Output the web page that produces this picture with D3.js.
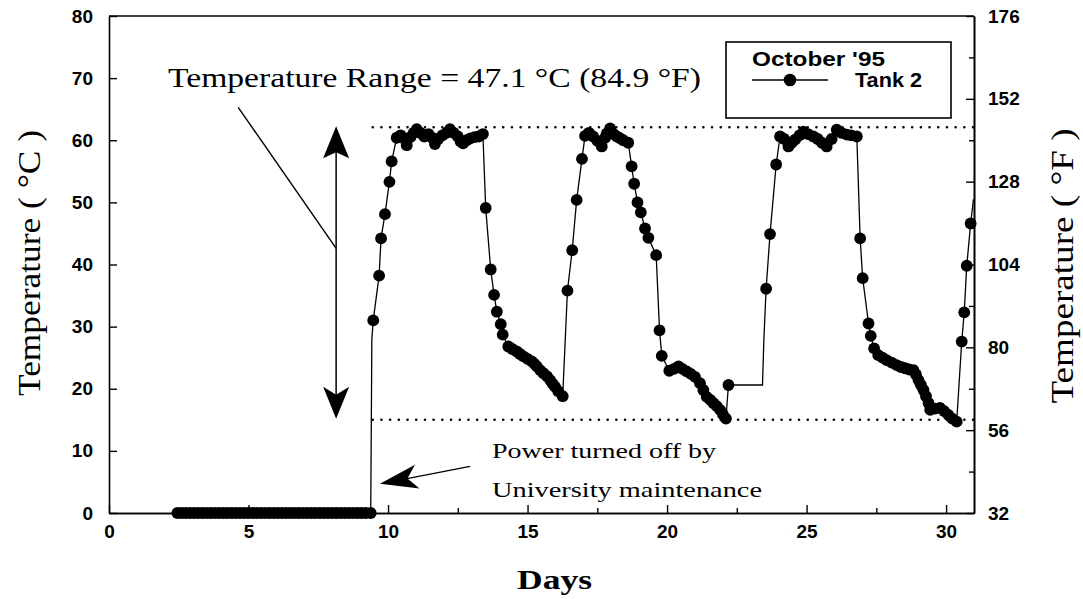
<!DOCTYPE html>
<html>
<head>
<meta charset="utf-8">
<script src="https://cdn.jsdelivr.net/npm/d3@7"></script>
<style>
  body { margin: 0; background: #fff; }
  .tick text { font-family: "Liberation Sans", Arial, sans-serif; font-weight: bold; font-size: 19px; fill: #000; }
  .serif { font-family: "Liberation Serif", "Times New Roman", serif; fill: #000; }
  .sans { font-family: "Liberation Sans", Arial, sans-serif; font-weight: bold; fill: #000; }
</style>
</head>
<body>
<div id="chart"></div>
<script>
// days with the power off (tank reads 0 °C)
let offDays = [2.45, 2.6, 2.75, 2.9, 3.05, 3.2, 3.35, 3.5, 3.65, 3.8, 3.95, 4.1, 4.25, 4.4, 4.55,
	4.7, 4.85, 5.0, 5.15, 5.3, 5.45, 5.6, 5.75, 5.9, 6.05, 6.2, 6.35, 6.5, 6.65, 6.8, 6.95, 7.1,
	7.25, 7.4, 7.55, 7.7, 7.85, 8.0, 8.15, 8.3, 8.45, 8.6, 8.75, 8.9, 9.05, 9.2, 9.38];

// Tank 2 readings [day, °C]
let tank2 = [
	[9.47, 31.0], [9.68, 38.2], [9.75, 44.2], [9.89, 48.1], [10.05, 53.3], [10.13, 56.6], [10.31, 60.4],
	[10.45, 60.8], [10.6, 60.2], [10.67, 59.2], [10.8, 60.5], [10.92, 61.2], [11.03, 61.8], [11.15, 61.2],
	[11.3, 60.6], [11.45, 61.0], [11.58, 60.4], [11.68, 59.4], [11.8, 60.2], [11.95, 60.8], [12.1, 61.2],
	[12.22, 61.8], [12.35, 61.2], [12.5, 60.6], [12.6, 59.8], [12.69, 59.5], [12.82, 60.0], [12.95, 60.3],
	[13.1, 60.5], [13.25, 60.6], [13.4, 61.0],
	[13.5, 49.1], [13.68, 39.2], [13.8, 35.1], [13.9, 32.4], [14.04, 30.4], [14.11, 28.7], [14.31, 26.8],
	[14.45, 26.4], [14.61, 26.0], [14.73, 25.6], [14.85, 25.2], [15.0, 24.8], [15.15, 24.4], [15.25, 24.0],
	[15.33, 23.6], [15.45, 23.0], [15.57, 22.5], [15.7, 22.0], [15.81, 21.4], [15.9, 20.8], [15.99, 20.3],
	[16.1, 19.6], [16.26, 18.8],
	[16.43, 35.8], [16.6, 42.3], [16.76, 50.4], [16.95, 57.0], [17.06, 60.7],
	[17.2, 61.2], [17.35, 60.6], [17.5, 59.9], [17.66, 59.0], [17.78, 60.4], [17.84, 61.1], [17.96, 61.9],
	[18.08, 61.0], [18.2, 60.6], [18.32, 60.3], [18.43, 60.0], [18.61, 59.6],
	[18.73, 55.8], [18.82, 53.0], [18.94, 50.0], [19.06, 48.4], [19.21, 45.8], [19.33, 44.3], [19.61, 41.5],
	[19.73, 29.4], [19.81, 25.3], [20.08, 22.9], [20.25, 23.2], [20.41, 23.6], [20.55, 23.2], [20.7, 22.8],
	[20.85, 22.4], [21.0, 21.9], [21.18, 20.9], [21.3, 19.8], [21.42, 18.7], [21.55, 18.2], [21.66, 17.7],
	[21.78, 17.2], [21.9, 16.6], [22.0, 15.9], [22.11, 15.2], [22.2, 20.6],
	[23.55, 36.1], [23.69, 44.9], [23.91, 56.1], [24.05, 60.6],
	[24.2, 60.2], [24.35, 59.0], [24.47, 59.6], [24.59, 60.1], [24.75, 60.8], [24.89, 61.4], [25.05, 61.0],
	[25.24, 60.6], [25.4, 60.2], [25.55, 59.6], [25.72, 59.0], [25.9, 60.2], [26.08, 61.7], [26.25, 61.2],
	[26.44, 60.9], [26.6, 60.8], [26.8, 60.6],
	[26.92, 44.2], [27.01, 37.8], [27.22, 30.5], [27.3, 28.5], [27.42, 26.5], [27.57, 25.4], [27.72, 25.0],
	[27.87, 24.6], [28.05, 24.2], [28.23, 23.8], [28.38, 23.5], [28.53, 23.3], [28.68, 23.1], [28.83, 23.0],
	[28.92, 22.3], [29.01, 21.4], [29.1, 20.6], [29.19, 19.8], [29.28, 18.8], [29.37, 17.7], [29.43, 16.6],
	[29.6, 16.8], [29.78, 16.9], [29.93, 16.4], [30.08, 15.8], [30.22, 15.2], [30.38, 14.7],
	[30.56, 27.6], [30.65, 32.3], [30.74, 39.8], [30.88, 46.6]
];

// line bends with no marker
let lineBends = [[9.42, 28.0], [23.42, 20.6], [23.47, 28.0], [30.98, 50.5]];

let rangeHigh = 62.1;
let rangeLow = 15.0;

let xTicks = [0, 5, 10, 15, 20, 25, 30];
let xMinorTicks = [2.5, 7.5, 12.5, 17.5, 22.5, 27.5];
let cTicks = [0, 10, 20, 30, 40, 50, 60, 70, 80];
let fTicks = [32, 56, 80, 104, 128, 152, 176];
let fMinorTicks = [44, 68, 92, 116, 140, 164];

let width = 1083;
let height = 599;
let plotLeft = 109, plotRight = 974, plotTop = 16, plotBottom = 513;

let svg = d3.select('#chart')
		.append('svg')
		.attr('width', width)
		.attr('height', height);

let xScale = d3.scaleLinear().domain([0, 31]).range([plotLeft, plotRight]);
let yScale = d3.scaleLinear().domain([0, 80]).range([plotBottom, plotTop]);
let fScale = d3.scaleLinear().domain([32, 176]).range([plotBottom, plotTop]);

svg.append('defs').append('clipPath')
		.attr('id', 'plotClip')
		.append('rect')
		.attr('x', plotLeft).attr('y', plotTop - 10)
		.attr('width', plotRight - plotLeft).attr('height', plotBottom - plotTop + 20);

// ---- axes ----
svg.append('g')
		.attr('transform', `translate(0,${plotBottom})`)
		.call(d3.axisBottom(xScale).tickValues(xTicks).tickSizeInner(-8).tickSizeOuter(0).tickPadding(12));
svg.append('g')
		.attr('transform', `translate(0,${plotBottom})`)
		.call(d3.axisBottom(xScale).tickValues(xMinorTicks).tickSizeInner(-5).tickSizeOuter(0).tickFormat(''));

svg.append('g')
		.attr('transform', `translate(${plotLeft},0)`)
		.call(d3.axisLeft(yScale).tickValues(cTicks).tickSizeInner(-8).tickSizeOuter(0).tickPadding(16));

svg.append('g')
		.attr('transform', `translate(${plotRight},0)`)
		.call(d3.axisRight(fScale).tickValues(fTicks).tickSizeInner(-8).tickSizeOuter(0).tickPadding(14));
svg.append('g')
		.attr('transform', `translate(${plotRight},0)`)
		.call(d3.axisRight(fScale).tickValues(fMinorTicks).tickSizeInner(-5).tickSizeOuter(0).tickFormat(''));

svg.selectAll('.domain').attr('stroke', '#000').attr('stroke-width', 1.6);
svg.selectAll('.tick line').attr('stroke', '#000').attr('stroke-width', 1.4);

// top frame line
svg.append('line')
		.attr('x1', plotLeft).attr('x2', plotRight)
		.attr('y1', plotTop).attr('y2', plotTop)
		.attr('stroke', '#000').attr('stroke-width', 1.6);

// ---- axis titles ----
svg.append('text')
		.attr('class', 'serif')
		.attr('transform', `translate(40,263) rotate(-90)`)
		.attr('text-anchor', 'middle')
		.attr('textLength', 266)
		.attr('lengthAdjust', 'spacingAndGlyphs')
		.style('font-size', '31px')
		.text('Temperature ( °C )');

svg.append('text')
		.attr('class', 'serif')
		.attr('transform', `translate(1073,266) rotate(-90)`)
		.attr('text-anchor', 'middle')
		.attr('textLength', 275)
		.attr('lengthAdjust', 'spacingAndGlyphs')
		.style('font-size', '31px')
		.text('Temperature ( °F )');

svg.append('text')
		.attr('class', 'serif')
		.attr('x', 517)
		.attr('y', 589)
		.attr('textLength', 75)
		.attr('lengthAdjust', 'spacingAndGlyphs')
		.style('font-size', '28px')
		.style('font-weight', 'bold')
		.text('Days');

// ---- range lines ----
[rangeHigh, rangeLow].forEach(v => {
	svg.append('line')
			.attr('x1', xScale(9.45)).attr('x2', plotRight)
			.attr('y1', yScale(v)).attr('y2', yScale(v))
			.attr('stroke', '#000')
			.attr('stroke-width', 2.5)
			.attr('stroke-linecap', 'round')
			.attr('stroke-dasharray', '0.1,8.6');
});

// ---- series ----
let lineGen = d3.line()
		.x(p => xScale(p[0]))
		.y(p => yScale(p[1]));

let offPoints = offDays.map(d => [d, 0]);
let linePoints = offPoints.concat(tank2, lineBends).sort((a, b) => a[0] - b[0]);

svg.append('path')
		.attr('d', lineGen(linePoints))
		.attr('clip-path', 'url(#plotClip)')
		.attr('fill', 'none')
		.attr('stroke', '#000')
		.attr('stroke-width', 1.3);

svg.append('g')
		.selectAll('circle')
		.data(offPoints.concat(tank2))
		.enter()
		.append('circle')
		.attr('cx', p => xScale(p[0]))
		.attr('cy', p => yScale(p[1]))
		.attr('r', 5.9)
		.attr('fill', '#000');

// ---- annotations ----
function arrowHead(tipX, tipY, angle, len, half, notch) {
	// arrow pointing along angle (radians) toward the tip
	let ca = Math.cos(angle), sa = Math.sin(angle);
	let pt = (a, b) => [tipX - a * ca - b * sa, tipY - a * sa + b * ca];
	let pts = [[tipX, tipY], pt(len, half), pt(len - notch, 0), pt(len, -half)];
	return 'M' + pts.map(p => p.join(',')).join('L') + 'Z';
}

let rangeDay = 8.14;
let ax = xScale(rangeDay);
svg.append('line')
		.attr('x1', ax).attr('x2', ax)
		.attr('y1', yScale(rangeHigh) + 10).attr('y2', yScale(rangeLow) - 10)
		.attr('stroke', '#000').attr('stroke-width', 1.5);
svg.append('path')
		.attr('d', arrowHead(ax, yScale(rangeHigh) - 1, -Math.PI / 2, 32, 13, 6))
		.attr('fill', '#000');
svg.append('path')
		.attr('d', arrowHead(ax, yScale(rangeLow) - 1, Math.PI / 2, 32, 13, 8))
		.attr('fill', '#000');

svg.append('line')
		.attr('x1', xScale(4.63)).attr('y1', yScale(65.3))
		.attr('x2', ax).attr('y2', yScale(42.6))
		.attr('stroke', '#000').attr('stroke-width', 1.4);

svg.append('text')
		.attr('class', 'serif')
		.attr('x', 168)
		.attr('y', 87)
		.attr('textLength', 533)
		.attr('lengthAdjust', 'spacingAndGlyphs')
		.style('font-size', '28px')
		.text('Temperature Range = 47.1 °C (84.9 °F)');

// power off arrow
let tipX = xScale(9.71), tipY = yScale(4.7);
let tailX = xScale(12.94), tailY = yScale(7.5);
let ang = Math.atan2(tipY - tailY, tipX - tailX);
svg.append('line')
		.attr('x1', tailX).attr('y1', tailY)
		.attr('x2', tipX - 25 * Math.cos(ang)).attr('y2', tipY - 25 * Math.sin(ang))
		.attr('stroke', '#000').attr('stroke-width', 1.4);
svg.append('path')
		.attr('d', arrowHead(tipX, tipY, ang, 38, 12, 10))
		.attr('fill', '#000');

svg.append('text')
		.attr('class', 'serif')
		.attr('x', 492).attr('y', 458)
		.attr('textLength', 224)
		.attr('lengthAdjust', 'spacingAndGlyphs')
		.style('font-size', '21px')
		.text('Power turned off by');
svg.append('text')
		.attr('class', 'serif')
		.attr('x', 492).attr('y', 497)
		.attr('textLength', 270)
		.attr('lengthAdjust', 'spacingAndGlyphs')
		.style('font-size', '21px')
		.text('University maintenance');

// ---- legend ----
let legend = svg.append('g').attr('transform', 'translate(726,42)');
legend.append('rect')
		.attr('width', 225).attr('height', 76)
		.attr('fill', '#fff')
		.attr('stroke', '#000').attr('stroke-width', 1.6);
legend.append('text')
		.attr('class', 'sans')
		.attr('x', 26).attr('y', 24)
		.attr('textLength', 133)
		.attr('lengthAdjust', 'spacingAndGlyphs')
		.style('font-size', '20px')
		.text("October '95");
legend.append('line')
		.attr('x1', 26).attr('x2', 102).attr('y1', 38).attr('y2', 38)
		.attr('stroke', '#000').attr('stroke-width', 1.6);
legend.append('circle')
		.attr('cx', 64).attr('cy', 38).attr('r', 6.3).attr('fill', '#000');
legend.append('text')
		.attr('class', 'sans')
		.attr('x', 129).attr('y', 45)
		.attr('textLength', 67)
		.attr('lengthAdjust', 'spacingAndGlyphs')
		.style('font-size', '20px')
		.text('Tank 2');
</script>
</body>
</html>
